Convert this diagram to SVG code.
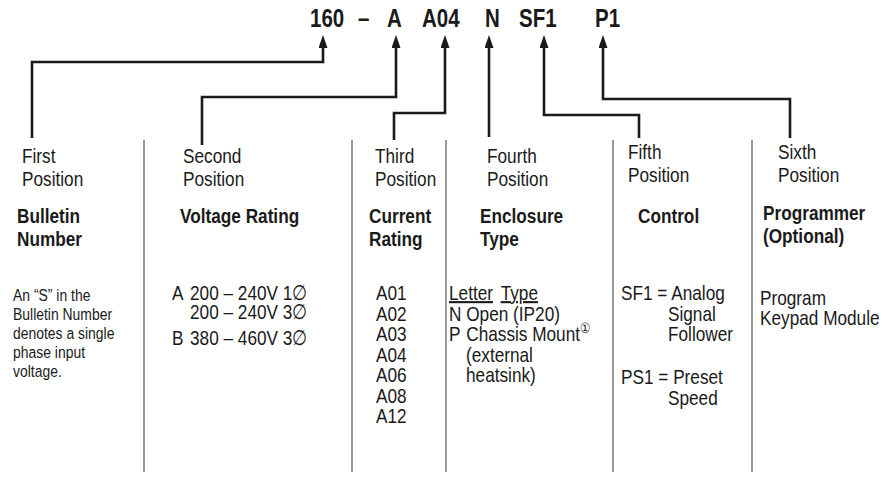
<svg xmlns="http://www.w3.org/2000/svg" width="884" height="478" viewBox="0 0 884 478">
<style>
  text { font-family: "Liberation Sans", Arial, sans-serif; fill: #1a1a1a; white-space: pre; }
  .title { font-size: 25px; font-weight: bold; }
  .pos { font-size: 21px; }
  .hd { font-size: 21px; font-weight: bold; }
  .body { font-size: 21px; }
  .small { font-size: 17px; }
  .ul { text-decoration: underline; }
  .sup { font-family: "DejaVu Sans", sans-serif; font-size: 14px; }
  .conn { fill: none; stroke: #1a1a1a; stroke-width: 2.6; marker-start: url(#arr); }
  .div { stroke: #555; stroke-width: 1.2; }
</style>
<defs>
  <marker id="arr" markerUnits="userSpaceOnUse" markerWidth="10" markerHeight="14" refX="4.5" refY="13" orient="0">
    <path d="M4.5,0 L9,13 L0,13 z" fill="#1a1a1a"/>
  </marker>
</defs>

<g id="title">
  <text class="title" transform="translate(310,27) scale(0.82,1)">160</text>
  <text class="title" transform="translate(358,27) scale(0.82,1)">–</text>
  <text class="title" transform="translate(387,27) scale(0.82,1)">A</text>
  <text class="title" transform="translate(422,27) scale(0.82,1)">A04</text>
  <text class="title" transform="translate(485,27) scale(0.82,1)">N</text>
  <text class="title" transform="translate(519,27) scale(0.82,1)">SF1</text>
  <text class="title" transform="translate(595,27) scale(0.82,1)">P1</text>
</g>

<g id="connectors">
  <path class="conn" d="M323,48 V62 H32 V138"/>
  <path class="conn" d="M396,48 V97 H202 V145"/>
  <path class="conn" d="M445,48 V113 H394 V140"/>
  <path class="conn" d="M489,48 V137"/>
  <path class="conn" d="M544,48 V115 H639 V138"/>
  <path class="conn" d="M603,48 V99 H790 V138"/>
</g>

<g id="dividers">
  <line class="div" x1="144" y1="140" x2="144" y2="472"/>
  <line class="div" x1="352" y1="140" x2="352" y2="472"/>
  <line class="div" x1="446" y1="140" x2="446" y2="472"/>
  <line class="div" x1="613" y1="140" x2="613" y2="472"/>
  <line class="div" x1="752" y1="140" x2="752" y2="472"/>
</g>

<g id="col1">
  <text class="pos" transform="translate(22,163) scale(0.82,1)">First</text>
  <text class="pos" transform="translate(22,186) scale(0.82,1)">Position</text>
  <text class="hd" transform="translate(17,223) scale(0.82,1)">Bulletin</text>
  <text class="hd" transform="translate(17,246) scale(0.82,1)">Number</text>
  <text class="small" transform="translate(13,301) scale(0.82,1)">An “S” in the</text>
  <text class="small" transform="translate(13,320) scale(0.82,1)">Bulletin Number</text>
  <text class="small" transform="translate(13,339) scale(0.82,1)">denotes a single</text>
  <text class="small" transform="translate(13,358) scale(0.82,1)">phase input</text>
  <text class="small" transform="translate(13,377) scale(0.82,1)">voltage.</text>
</g>

<g id="col2">
  <text class="pos" transform="translate(183,163) scale(0.82,1)">Second</text>
  <text class="pos" transform="translate(183,186) scale(0.82,1)">Position</text>
  <text class="hd" transform="translate(180,223) scale(0.82,1)">Voltage Rating</text>
  <text class="body" transform="translate(172,300) scale(0.82,1)">A <tspan x="22">200 – 240V 1∅</tspan></text>
  <text class="body" transform="translate(190,319) scale(0.82,1)">200 – 240V 3∅</text>
  <text class="body" transform="translate(172,345) scale(0.82,1)">B <tspan x="22">380 – 460V 3∅</tspan></text>
</g>

<g id="col3">
  <text class="pos" transform="translate(375,163) scale(0.82,1)">Third</text>
  <text class="pos" transform="translate(375,186) scale(0.82,1)">Position</text>
  <text class="hd" transform="translate(369,223) scale(0.82,1)">Current</text>
  <text class="hd" transform="translate(369,246) scale(0.82,1)">Rating</text>
  <text class="body" transform="translate(376,300) scale(0.82,1)">A01</text>
  <text class="body" transform="translate(376,320.5) scale(0.82,1)">A02</text>
  <text class="body" transform="translate(376,341) scale(0.82,1)">A03</text>
  <text class="body" transform="translate(376,361.5) scale(0.82,1)">A04</text>
  <text class="body" transform="translate(376,382) scale(0.82,1)">A06</text>
  <text class="body" transform="translate(376,402.5) scale(0.82,1)">A08</text>
  <text class="body" transform="translate(376,423) scale(0.82,1)">A12</text>
</g>

<g id="col4">
  <text class="pos" transform="translate(487,163) scale(0.82,1)">Fourth</text>
  <text class="pos" transform="translate(487,186) scale(0.82,1)">Position</text>
  <text class="hd" transform="translate(480,223) scale(0.82,1)">Enclosure</text>
  <text class="hd" transform="translate(480,246) scale(0.82,1)">Type</text>
  <text class="body" transform="translate(449,300) scale(0.82,1)"><tspan class="ul">Letter</tspan><tspan x="63" class="ul">Type</tspan></text>
  <text class="body" transform="translate(449,320.5) scale(0.82,1)">N <tspan x="21">Open (IP20)</tspan></text>
  <text class="body" transform="translate(449,341) scale(0.82,1)">P <tspan x="21">Chassis Mount</tspan><tspan class="sup" dy="-8">①</tspan></text>
  <text class="body" transform="translate(466,361.5) scale(0.82,1)">(external</text>
  <text class="body" transform="translate(466,382) scale(0.82,1)">heatsink)</text>
</g>

<g id="col5">
  <text class="pos" transform="translate(628,159) scale(0.82,1)">Fifth</text>
  <text class="pos" transform="translate(628,182) scale(0.82,1)">Position</text>
  <text class="hd" transform="translate(638,223) scale(0.82,1)">Control</text>
  <text class="body" transform="translate(621,300) scale(0.82,1)">SF1 = Analog</text>
  <text class="body" transform="translate(668,320.5) scale(0.82,1)">Signal</text>
  <text class="body" transform="translate(668,341) scale(0.82,1)">Follower</text>
  <text class="body" transform="translate(621,384) scale(0.82,1)">PS1 = Preset</text>
  <text class="body" transform="translate(668,404.5) scale(0.82,1)">Speed</text>
</g>

<g id="col6">
  <text class="pos" transform="translate(778,159) scale(0.82,1)">Sixth</text>
  <text class="pos" transform="translate(778,182) scale(0.82,1)">Position</text>
  <text class="hd" transform="translate(763,220) scale(0.82,1)">Programmer</text>
  <text class="hd" transform="translate(763,243) scale(0.82,1)">(Optional)</text>
  <text class="body" transform="translate(760,305) scale(0.82,1)">Program</text>
  <text class="body" transform="translate(760,325) scale(0.82,1)">Keypad Module</text>
</g>
</svg>
